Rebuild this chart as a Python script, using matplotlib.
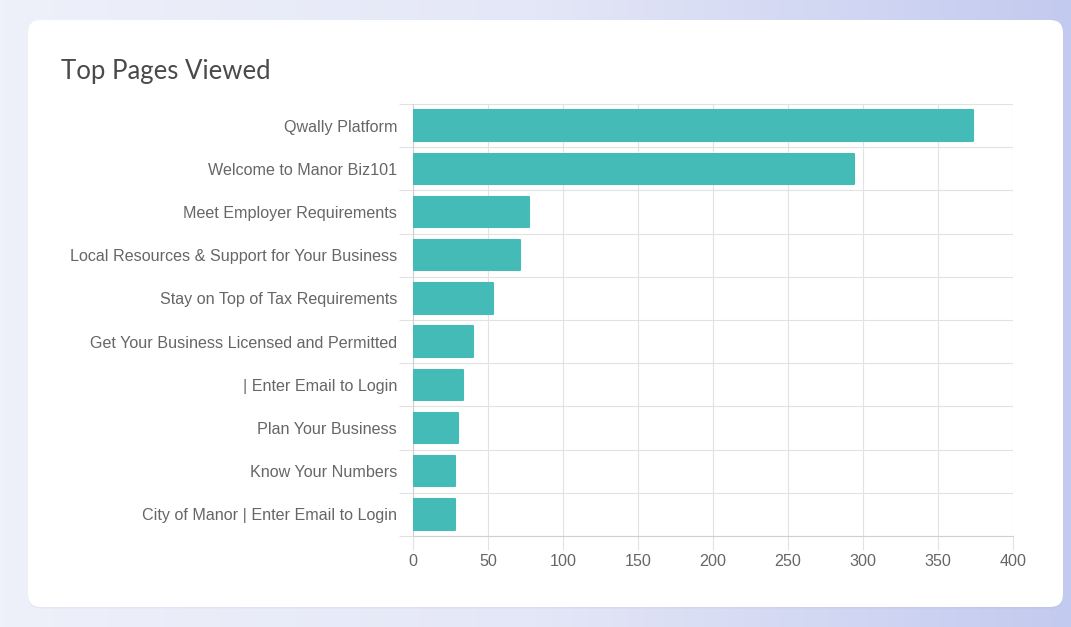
#!/usr/bin/env python3
"""Top Pages Viewed - horizontal bar chart on a dashboard card."""
import matplotlib
matplotlib.use("Agg")
import matplotlib.pyplot as plt
import numpy as np
from matplotlib.colors import LinearSegmentedColormap
from matplotlib.patches import FancyBboxPatch

W, H = 1071, 627
DPI = 100

pages = [
    "Qwally Platform",
    "Welcome to Manor Biz101",
    "Meet Employer Requirements",
    "Local Resources & Support for Your Business",
    "Stay on Top of Tax Requirements",
    "Get Your Business Licensed and Permitted",
    "| Enter Email to Login",
    "Plan Your Business",
    "Know Your Numbers",
    "City of Manor | Enter Email to Login",
]
views = [373, 294, 77, 71, 53, 40, 33, 30, 28, 28]
x_ticks = [0, 50, 100, 150, 200, 250, 300, 350, 400]

BAR = "#45bbb8"
GRID = "#e2e2e2"
TICK = "#666666"

fig = plt.figure(figsize=(W / DPI, H / DPI), dpi=DPI)

# page background: soft lavender gradient
bg = fig.add_axes([0, 0, 1, 1])
grad = np.linspace(0, 1, 256)[None, :]
cmap = LinearSegmentedColormap.from_list("bg", ["#eef0fa", "#e4e7f7", "#c3caef"])
bg.imshow(grad, aspect="auto", cmap=cmap, extent=[0, 1, 0, 1])
bg.set_xlim(0, 1)
bg.set_ylim(0, 1)
bg.axis("off")

# card with soft shadow
for off, a in [(4, 0.04), (2, 0.05)]:
    bg.add_patch(FancyBboxPatch((28 / W, (H - 607 - off / 2) / H), (1063 - 28) / W, (607 - 20) / H,
                                boxstyle="round,pad=0,rounding_size=0.012",
                                fc="#8890b0", ec="none", alpha=a, mutation_aspect=W / H))
bg.add_patch(FancyBboxPatch((28 / W, (H - 607) / H), (1063 - 28) / W, (607 - 20) / H,
                            boxstyle="round,pad=0,rounding_size=0.012",
                            fc="white", ec="none", mutation_aspect=W / H))

fig.text(61 / W, 1 - 72 / H, "Top Pages Viewed", fontsize=18.5, color="#4a4a4a",
         family=["Lato", "DejaVu Sans"], va="center", ha="left")

ax = fig.add_axes([413 / W, 1 - 536 / H, (1013 - 413) / W, (536 - 104) / H])
y = np.arange(len(pages))
ax.barh(y, views, height=0.7, color=BAR, edgecolor=BAR, linewidth=1.5,
        joinstyle="round", zorder=3)
ax.set_ylim(len(pages) - 0.5, -0.5)
ax.set_xlim(0, 400)
ax.set_xticks(x_ticks)
ax.set_yticks(y)
ax.set_yticklabels(pages)
ax.set_yticks(np.arange(-0.5, len(pages)), minor=True)
ax.grid(True, axis="x", color=GRID, lw=0.8, zorder=0)
ax.grid(True, axis="y", which="minor", color=GRID, lw=0.8, zorder=0)
ax.tick_params(axis="y", which="major", length=0, pad=11.5, labelsize=11.6,
               labelcolor=TICK, labelfontfamily="Liberation Sans")
ax.tick_params(axis="y", which="minor", length=10, color=GRID, width=0.8)
ax.tick_params(axis="x", length=10, color=GRID, width=0.8, pad=3, labelsize=11.6,
               labelcolor=TICK, labelfontfamily="Liberation Sans")
for side in ["top", "right"]:
    ax.spines[side].set_visible(False)
for side in ["left", "bottom"]:
    ax.spines[side].set_color("#d0d0d0")
    ax.spines[side].set_linewidth(0.8)
ax.set_facecolor("none")

fig.savefig("out.png", dpi=DPI)
